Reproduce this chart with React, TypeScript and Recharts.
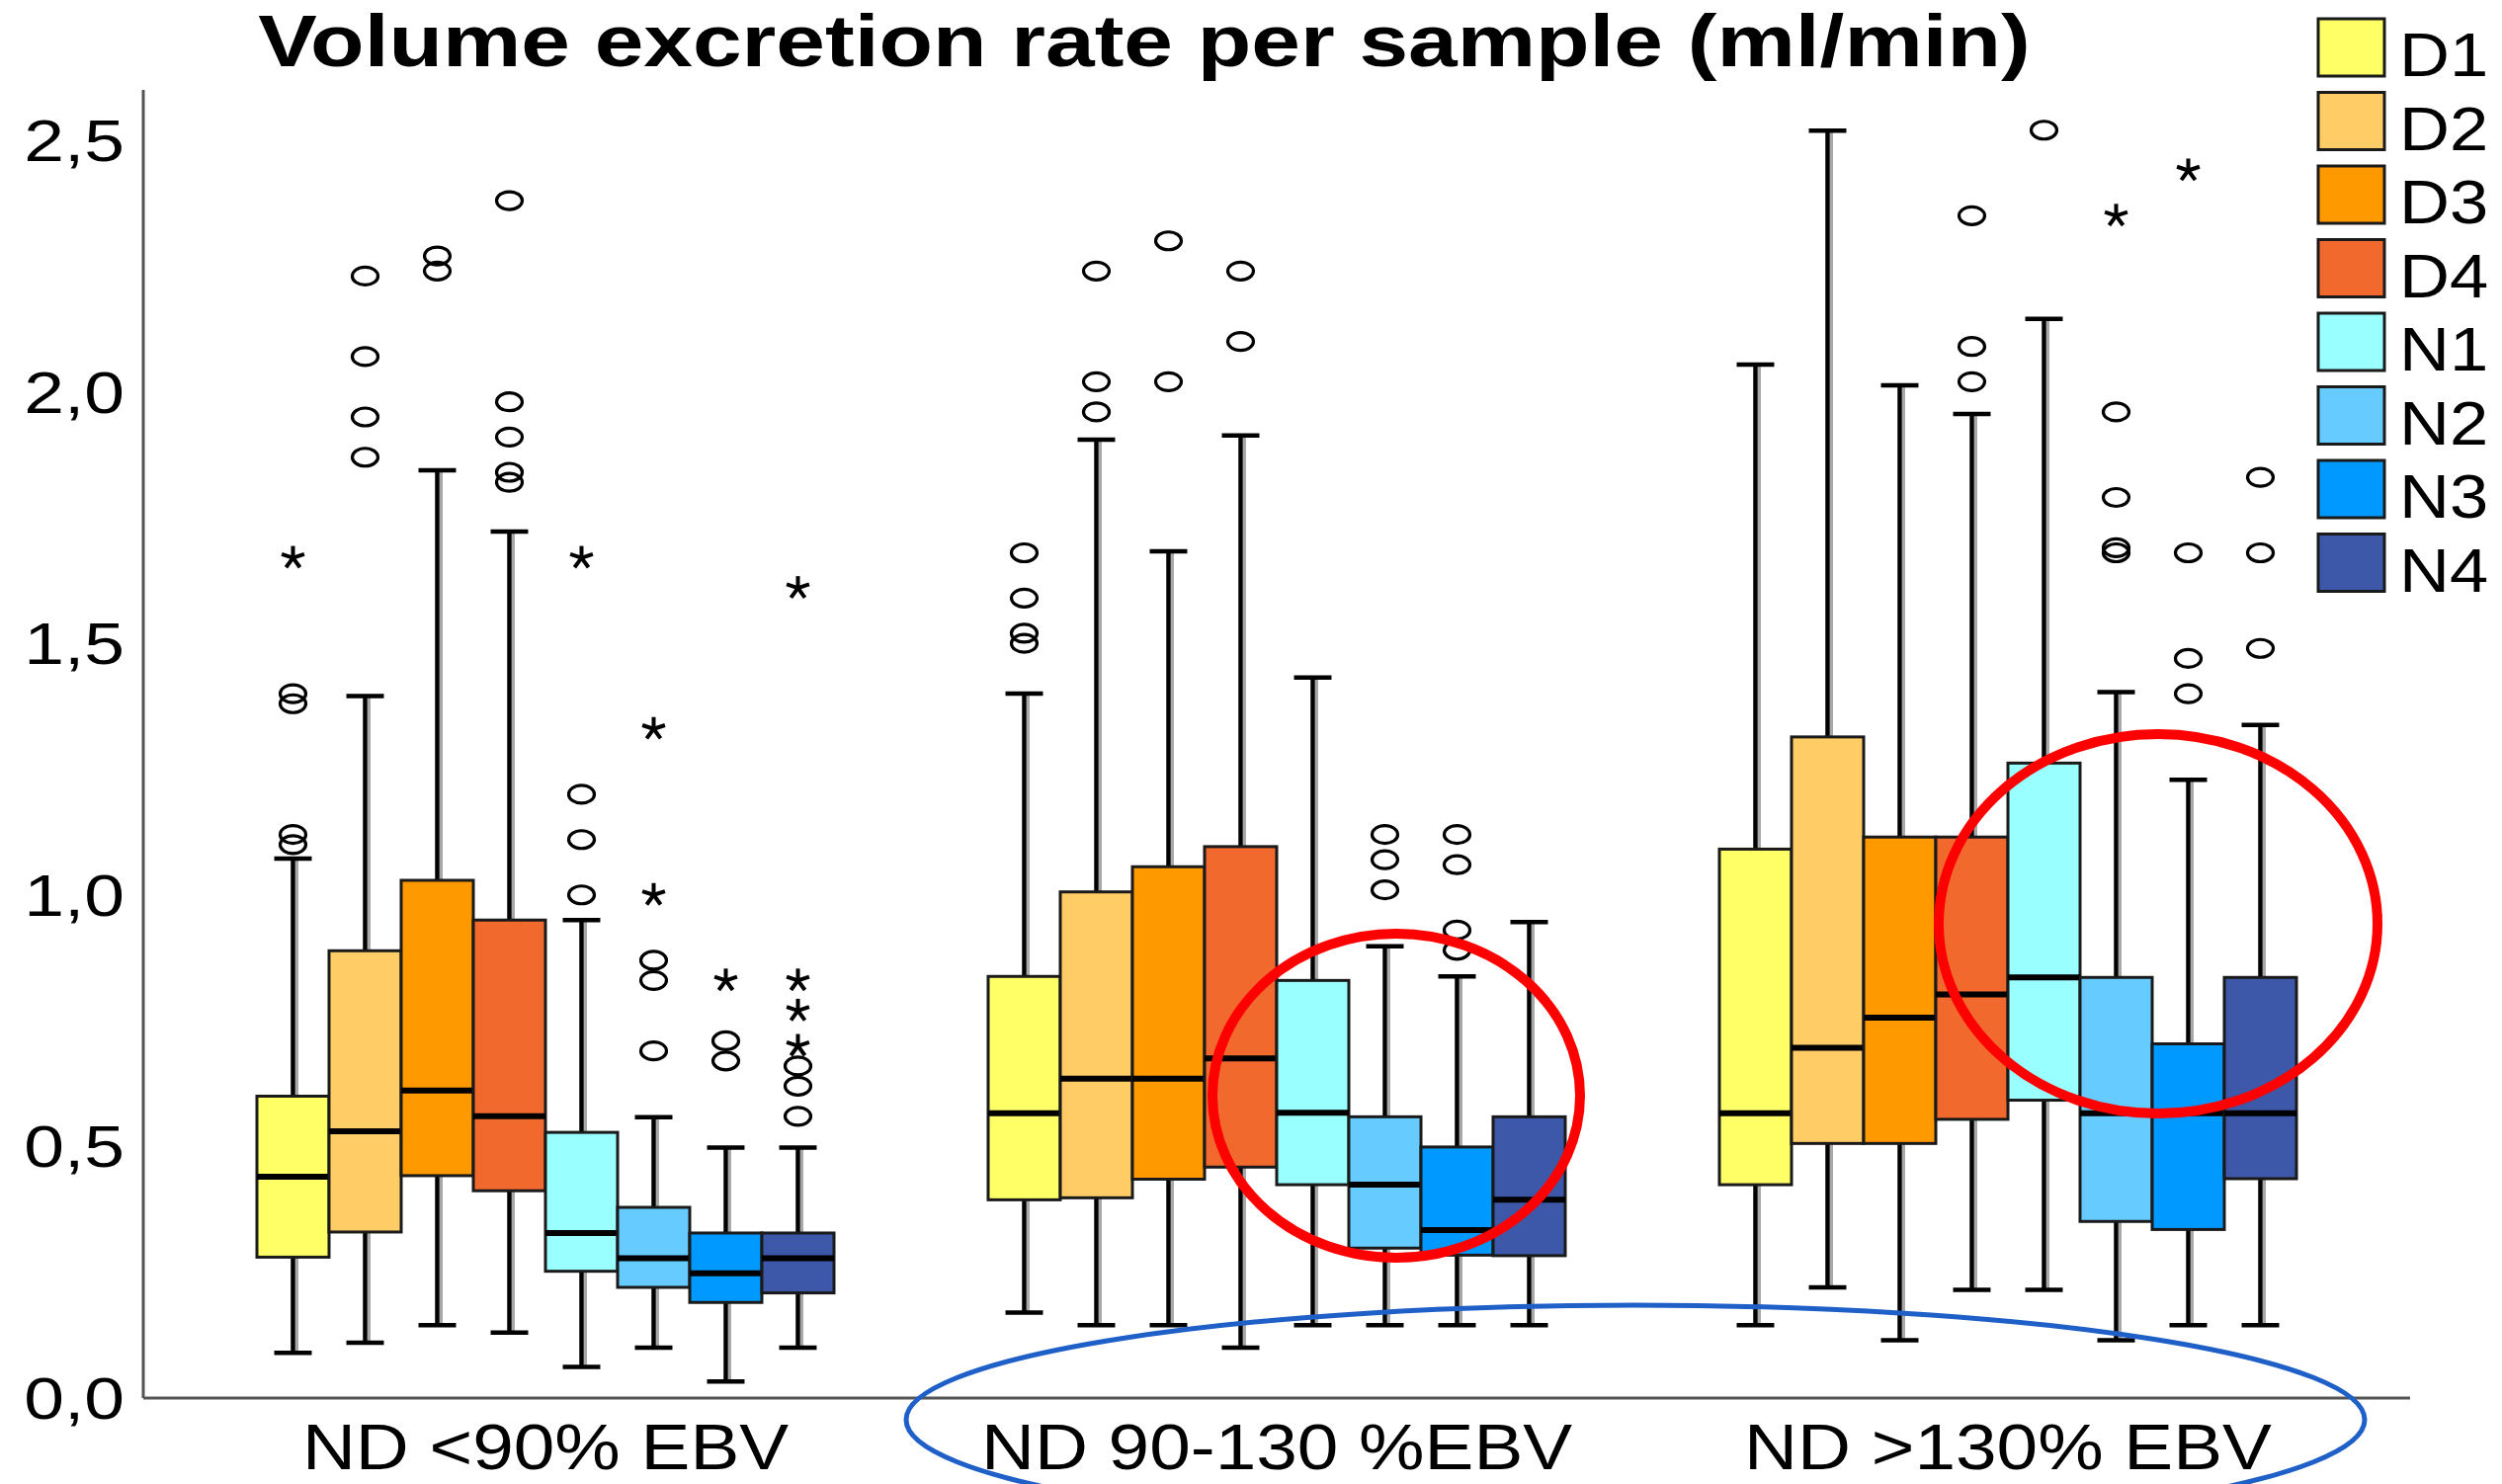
import React from 'react';
import { ComposedChart, Bar, XAxis, YAxis, Legend } from 'recharts';

// groups on the x axis
const categories = ['ND <90% EBV', 'ND 90-130 %EBV', 'ND >130% EBV'];
const seriesNames = ['D1', 'D2', 'D3', 'D4', 'N1', 'N2', 'N3', 'N4'];
const seriesColors = ['#FFFF66', '#FFCC66', '#FF9900', '#F2692E', '#99FFFF', '#66CCFF', '#0099FF', '#3D58A8'];

// one row per series, one column per category
const whiskerLow = [
  [0.09, 0.17, 0.145],
  [0.11, 0.145, 0.22],
  [0.145, 0.145, 0.115],
  [0.13, 0.10, 0.215],
  [0.062, 0.145, 0.215],
  [0.10, 0.145, 0.115],
  [0.033, 0.145, 0.145],
  [0.10, 0.145, 0.145],
];
const quartile1 = [
  [0.28, 0.394, 0.424],
  [0.33, 0.398, 0.506],
  [0.442, 0.435, 0.506],
  [0.412, 0.459, 0.554],
  [0.252, 0.424, 0.592],
  [0.22, 0.298, 0.351],
  [0.19, 0.284, 0.335],
  [0.209, 0.283, 0.436],
];
const medians = [
  [0.44, 0.566, 0.566],
  [0.53, 0.635, 0.696],
  [0.611, 0.635, 0.756],
  [0.56, 0.675, 0.802],
  [0.328, 0.567, 0.836],
  [0.278, 0.424, 0.566],
  [0.248, 0.334, 0.566],
  [0.278, 0.394, 0.566],
];
const quartile3 = [
  [0.60, 0.838, 1.091],
  [0.889, 1.006, 1.314],
  [1.029, 1.056, 1.115],
  [0.95, 1.096, 1.115],
  [0.528, 0.83, 1.262],
  [0.379, 0.559, 0.836],
  [0.328, 0.499, 0.704],
  [0.328, 0.559, 0.836],
];
const whiskerHigh = [
  [1.072, 1.40, 2.054],
  [1.395, 1.905, 2.519],
  [1.844, 1.683, 2.013],
  [1.722, 1.913, 1.956],
  [0.95, 1.432, 2.145],
  [0.558, 0.898, 1.403],
  [0.498, 0.838, 1.229],
  [0.498, 0.946, 1.338],
];
// outliers (circles) and extremes (stars)
const outliers = [
  [[1.10, 1.12, 1.38, 1.40], [1.50, 1.52, 1.59, 1.68], []],
  [[1.87, 1.95, 2.07, 2.23], [1.96, 2.02, 2.24], []],
  [[2.24, 2.27], [2.02, 2.30], []],
  [[1.82, 1.84, 1.91, 1.98, 2.38], [2.10, 2.24], [2.02, 2.09, 2.35]],
  [[1.00, 1.11, 1.20], [], [2.52]],
  [[0.69, 0.83, 0.87], [1.01, 1.07, 1.12], [1.68, 1.69, 1.79, 1.96]],
  [[0.67, 0.71], [0.89, 0.93, 1.06, 1.12], [1.40, 1.47, 1.68]],
  [[0.56, 0.62, 0.66], [], [1.49, 1.68, 1.83]],
];
const extremes = [
  [[1.67], [], []],
  [[], [], []],
  [[], [], []],
  [[], [], []],
  [[1.67], [], []],
  [[1.00, 1.33], [], [2.35]],
  [[0.83], [], [2.44]],
  [[0.70, 0.77, 0.83, 1.61], [], []],
];
const yTicks = [0, 0.5, 1, 1.5, 2, 2.5];

const W = 2532;
const H = 1502;
const FONT = '"Liberation Sans", Arial, sans-serif';

const data = categories.map((name, c) => {
  const row: any = { name, c };
  seriesNames.forEach((s, i) => {
    row[s] = [whiskerLow[i][c], whiskerHigh[i][c]];
  });
  return row;
});

const Asterisk = ({ cx, cy }: { cx: number; cy: number }) => {
  const r = 12;
  return (
    <g>
      {[-90, -18, 54, 126, 198].map((a) => (
        <line
          key={a}
          x1={cx}
          y1={cy}
          x2={cx + r * Math.cos((a * Math.PI) / 180)}
          y2={cy + r * Math.sin((a * Math.PI) / 180)}
          stroke="#000"
          strokeWidth={4}
        />
      ))}
    </g>
  );
};

// box + whiskers; the bar itself spans whiskerLow..whiskerHigh so its rect gives the scale
const makeBox = (i: number) => (props: any) => {
  const { x, y, width, height, payload } = props;
  const c = payload.c;
  const lo = whiskerLow[i][c];
  const hi = whiskerHigh[i][c];
  const top = Math.min(y, y + height);
  const h = Math.abs(height);
  const toY = (v: number) => top + ((hi - v) / (hi - lo)) * h;
  const cx = x + width / 2;
  const cap = width * 0.26;
  const y3 = toY(quartile3[i][c]);
  const y1 = toY(quartile1[i][c]);
  const ym = toY(medians[i][c]);
  return (
    <g>
      <line x1={cx + 4} x2={cx + 4} y1={top} y2={top + h} stroke="#a8a8a8" strokeWidth={3} />
      <line x1={cx} x2={cx} y1={top} y2={top + h} stroke="#000" strokeWidth={4.5} />
      <line x1={cx - cap} x2={cx + cap} y1={top} y2={top} stroke="#000" strokeWidth={4.5} />
      <line x1={cx - cap} x2={cx + cap} y1={top + h} y2={top + h} stroke="#000" strokeWidth={4.5} />
      <rect x={x} y={y3} width={width} height={y1 - y3} fill={seriesColors[i]} stroke="#1a1a1a" strokeWidth={3} />
      <line x1={x} x2={x + width} y1={ym} y2={ym} stroke="#000" strokeWidth={6} />
      {outliers[i][c].map((v, k) => (
        <ellipse key={'o' + k} cx={cx} cy={toY(v)} rx={13} ry={9} fill="none" stroke="#000" strokeWidth={3.2} />
      ))}
      {extremes[i][c].map((v, k) => (
        <Asterisk key={'s' + k} cx={cx} cy={toY(v)} />
      ))}
    </g>
  );
};

const YTick = ({ y, payload }: any) => (
  <g transform={`translate(126,${y + 21}) scale(1.22,1)`}>
    <text x={0} y={0} textAnchor="end" fontFamily={FONT} fontSize={60} fill="#000">
      {payload.value.toFixed(1).replace('.', ',')}
    </text>
  </g>
);

const XTick = ({ x, payload }: any) => (
  <g transform={`translate(${x},1487) scale(1.15,1)`}>
    <text x={0} y={0} textAnchor="middle" fontFamily={FONT} fontSize={65} fill="#000">
      {payload.value}
    </text>
  </g>
);

const LegendBox = () => (
  <svg width={194} height={650}>
    {seriesNames.map((s, i) => {
      const top = 9 + i * 74.5;
      return (
        <g key={s}>
          <rect x={8} y={top} width={67} height={58} fill={seriesColors[i]} stroke="#1a1a1a" strokeWidth={3} />
          <g transform={`translate(90,${top + 58}) scale(1.12,1)`}>
            <text x={0} y={0} fontFamily={FONT} fontSize={63} fill="#000">{s}</text>
          </g>
        </g>
      );
    })}
  </svg>
);

export default function App() {
  return (
    <div style={{ position: 'absolute', left: 0, top: 0, width: W, height: H, background: '#fff' }}>
      <ComposedChart
        width={W}
        height={H}
        data={data}
        margin={{ top: 91, right: 93, bottom: 0, left: 0 }}
        barGap={0}
        barSize={73}
      >
        <XAxis
          dataKey="name"
          type="category"
          height={87}
          padding={{ left: 37, right: 37 }}
          axisLine={{ stroke: '#555', strokeWidth: 3 }}
          tickLine={false}
          tick={<XTick />}
        />
        <YAxis
          type="number"
          domain={[0, 2.6]}
          ticks={yTicks}
          allowDataOverflow
          width={145}
          axisLine={{ stroke: '#555', strokeWidth: 3 }}
          tickLine={false}
          tick={<YTick />}
        />
        <Legend
          layout="vertical"
          align="center"
          verticalAlign="middle"
          content={<LegendBox />}
          wrapperStyle={{ left: 2338, top: 10, width: 194, height: 650 }}
        />
        {seriesNames.map((s, i) => (
          <Bar key={s} dataKey={s} name={s} fill={seriesColors[i]} shape={makeBox(i)} isAnimationActive={false} />
        ))}
      </ComposedChart>
      <svg width={W} height={H} style={{ position: 'absolute', left: 0, top: 0, pointerEvents: 'none' }}>
        <g transform="translate(1158,67) scale(1.19,1)">
          <text x={0} y={0} textAnchor="middle" fontFamily={FONT} fontWeight="bold" fontSize={75} fill="#000">
            Volume excretion rate per sample (ml/min)
          </text>
        </g>
        <ellipse cx={1413} cy={1109} rx={186} ry={164} fill="none" stroke="#FF0000" strokeWidth={10} />
        <ellipse cx={2184} cy={935} rx={222} ry={192} fill="none" stroke="#FF0000" strokeWidth={10} />
        <ellipse cx={1655} cy={1437} rx={738} ry={116} fill="none" stroke="#1F5FC8" strokeWidth={5} />
      </svg>
    </div>
  );
}
